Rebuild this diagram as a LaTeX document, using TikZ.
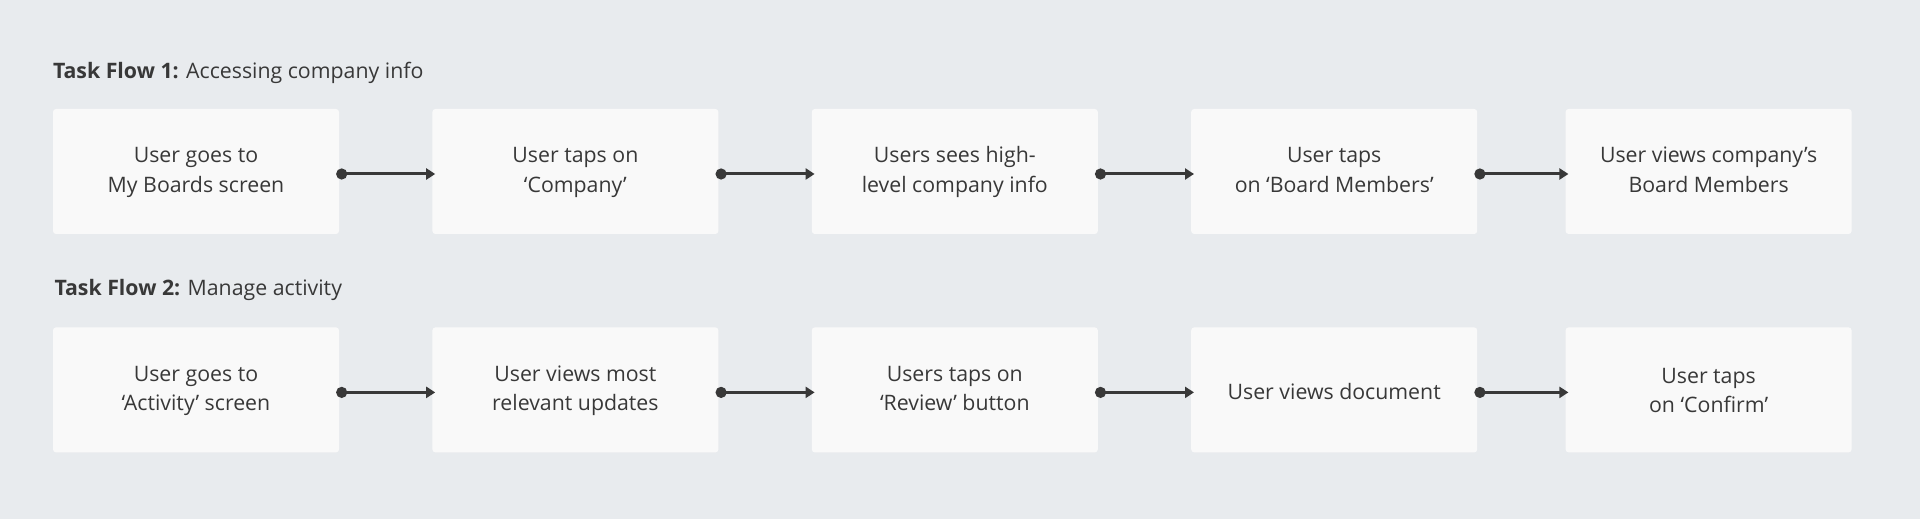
\documentclass[tikz,border=0pt]{standalone}
\usepackage{fontspec}
\setmainfont{Open Sans}
\usetikzlibrary{positioning}
\usetikzlibrary{arrows.meta}
\definecolor{bgcol}{HTML}{E8EBEE}
\definecolor{boxcol}{HTML}{F9F9F9}
\definecolor{inkcol}{HTML}{383838}
\tikzset{x=1pt, y=1pt,
  node distance=93pt, % gap between two boxes of a flow
  every node/.style={align=center,
    text=inkcol,
    font=\fontsize{21.3}{29.5}\selectfont},
  task/.style={       % one step of a task flow
    fill=boxcol,
    rounded corners=3pt,
    inner sep=0pt,
    minimum width=286pt,
    minimum height=125pt},
  heading/.style={    % title above a flow
    anchor=base west,
    inner sep=0pt},
  flow/.style={       % connector from one step to the next
    draw=inkcol,
    line width=3pt,
    {Circle[length=11pt]}-{Triangle[length=9pt,width=11pt]}}}

\begin{document}
\begin{tikzpicture}
  \useasboundingbox (0,0) rectangle (1920,519);
  \fill [bgcol] (0,0) rectangle (1920,519);

  % task flow 1
  \node [task] at (196,347.5) (ago) {\strut User goes to\\\strut My Boards screen};
  \node [task, right=of ago] (atap) {\strut User taps on\\\strut ‘Company’};
  \node [task, right=of atap] (asee) {\strut Users sees high-\\\strut level company info};
  \node [task, right=of asee] (aboard) {\strut User taps\\\strut on ‘Board Members’};
  \node [task, right=88pt of aboard] (aview) {\strut User views company’s\\\strut Board Members};

  \node [heading] at ([yshift=30pt]ago.north west) (tflowone)
    {\textbf{Task Flow 1:} Accessing company info};

  % task flow 2
  \node [task, below=of ago] (bgo) {\strut User goes to\\\strut ‘Activity’ screen};
  \node [task, right=of bgo] (bview) {\strut User views most\\\strut relevant updates};
  \node [task, right=of bview] (breview) {\strut Users taps on\\\strut ‘Review’ button};
  \node [task, right=of breview] (bdoc) {\rule{0pt}{27.3pt}\strut User views document};
  \node [task, right=88pt of bdoc] (bconfirm) {\rule{0pt}{25.3pt}\strut User taps\\\strut on ‘Confirm’};

  \node [heading] at ([xshift=1.5pt,yshift=31.5pt]bgo.north west) (tflowtwo)
    {\textbf{Task Flow 2:} Manage activity};

  \draw [flow] ([shift={(-3,-2.5)}]ago.east) -- ([shift={(3,-2.5)}]atap.west);
  \draw [flow] ([shift={(-3,-2.5)}]atap.east) -- ([shift={(3,-2.5)}]asee.west);
  \draw [flow] ([shift={(-3,-2.5)}]asee.east) -- ([shift={(3,-2.5)}]aboard.west);
  \draw [flow] ([shift={(-3,-2.5)}]aboard.east) -- ([shift={(3,-2.5)}]aview.west);

  \draw [flow] ([shift={(-3,-2.5)}]bgo.east) -- ([shift={(3,-2.5)}]bview.west);
  \draw [flow] ([shift={(-3,-2.5)}]bview.east) -- ([shift={(3,-2.5)}]breview.west);
  \draw [flow] ([shift={(-3,-2.5)}]breview.east) -- ([shift={(3,-2.5)}]bdoc.west);
  \draw [flow] ([shift={(-3,-2.5)}]bdoc.east) -- ([shift={(3,-2.5)}]bconfirm.west);
\end{tikzpicture}
\end{document}
